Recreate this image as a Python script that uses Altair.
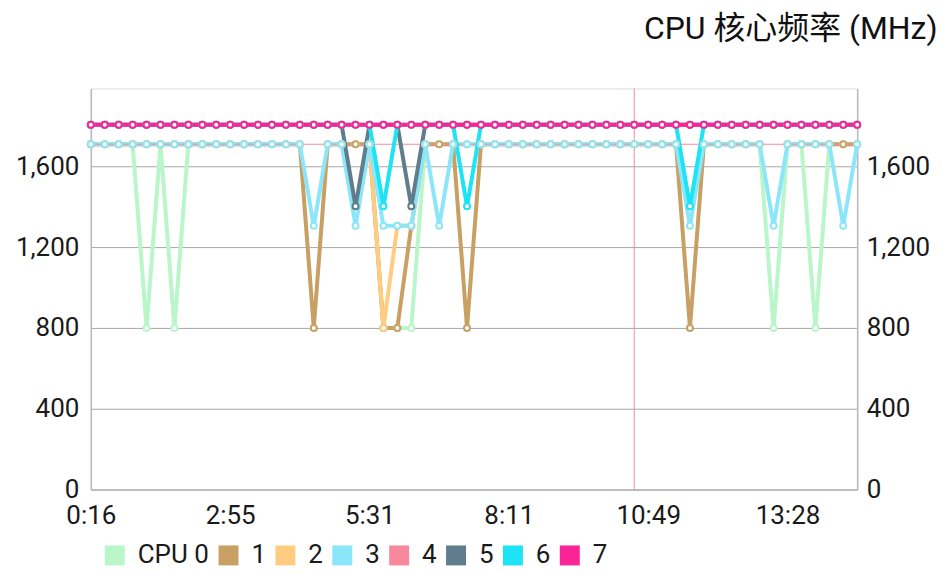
import pandas as pd
import altair as alt

# ---------------- data ----------------
series_names = ["CPU 0", "1", "2", "3", "4", "5", "6", "7"]
series_colors = ["#b9f6ca", "#c9a063", "#ffcc80", "#8ce6fa",
                 "#f8889c", "#607d8b", "#1de4f5", "#fa2397"]

time_labels = ["0:16", "2:55", "5:31", "8:11", "10:49", "13:28"]
time_label_index = [0, 10, 20, 30, 40, 50]
marker_index = 39

cpu0 = [1708.8, 1708.8, 1708.8, 1708.8, 800, 1708.8, 800, 1708.8,
        1708.8, 1708.8, 1708.8, 1708.8, 1708.8, 1708.8, 1708.8, 1708.8,
        None, 1708.8, 1708.8, 1708.8, 1708.8, 800, 800, 800,
        1708.8, 1708.8, 1708.8, 1708.8, 1708.8, 1708.8, 1708.8, 1708.8,
        1708.8, 1708.8, 1708.8, 1708.8, 1708.8, 1708.8, 1708.8, 1708.8,
        1708.8, 1708.8, 1708.8, None, 1708.8, 1708.8, 1708.8, 1708.8,
        1708.8, 800, 1708.8, 1708.8, 800, 1708.8, 1708.8, 1708.8]
cpu1 = [1708.8, 1708.8, 1708.8, 1708.8, 1708.8, 1708.8, 1708.8, 1708.8,
        1708.8, 1708.8, 1708.8, 1708.8, 1708.8, 1708.8, 1708.8, 1708.8,
        800, 1708.8, 1708.8, 1708.8, 1708.8, 800, 800, 1305.6,
        1708.8, 1708.8, 1708.8, 800, 1708.8, 1708.8, 1708.8, 1708.8,
        1708.8, 1708.8, 1708.8, 1708.8, 1708.8, 1708.8, 1708.8, 1708.8,
        1708.8, 1708.8, 1708.8, 800, 1708.8, 1708.8, 1708.8, 1708.8,
        1708.8, None, 1708.8, 1708.8, 1708.8, 1708.8, 1708.8, 1708.8]
cpu2 = [1708.8, 1708.8, 1708.8, 1708.8, 1708.8, 1708.8, 1708.8, 1708.8,
        1708.8, 1708.8, 1708.8, 1708.8, 1708.8, 1708.8, 1708.8, 1708.8,
        None, 1708.8, 1708.8, None, 1708.8, 800, 1305.6, 1305.6,
        1708.8, None, 1708.8, 1708.8, 1708.8, 1708.8, 1708.8, 1708.8,
        1708.8, 1708.8, 1708.8, 1708.8, 1708.8, 1708.8, 1708.8, 1708.8,
        1708.8, 1708.8, 1708.8, None, 1708.8, 1708.8, 1708.8, 1708.8,
        1708.8, None, 1708.8, 1708.8, 1708.8, 1708.8, None, 1708.8]
cpu3 = [1708.8, 1708.8, 1708.8, 1708.8, 1708.8, 1708.8, 1708.8, 1708.8,
        1708.8, 1708.8, 1708.8, 1708.8, 1708.8, 1708.8, 1708.8, 1708.8,
        1305.6, 1708.8, 1708.8, 1305.6, 1708.8, 1305.6, 1305.6, 1305.6,
        1708.8, 1305.6, 1708.8, 1708.8, 1708.8, 1708.8, 1708.8, 1708.8,
        1708.8, 1708.8, 1708.8, 1708.8, 1708.8, 1708.8, 1708.8, 1708.8,
        1708.8, 1708.8, 1708.8, 1305.6, 1708.8, 1708.8, 1708.8, 1708.8,
        1708.8, 1305.6, 1708.8, 1708.8, 1708.8, 1708.8, 1305.6, 1708.8]
cpu4 = [1708.8, 1708.8, 1708.8, 1708.8, 1708.8, 1708.8, 1708.8, 1708.8,
        1708.8, 1708.8, 1708.8, 1708.8, 1708.8, 1708.8, 1708.8, 1708.8,
        1708.8, 1708.8, 1708.8, 1708.8, 1708.8, 1708.8, 1708.8, 1708.8,
        1708.8, 1708.8, 1708.8, 1708.8, 1708.8, 1708.8, 1708.8, 1708.8,
        1708.8, 1708.8, 1708.8, 1708.8, 1708.8, 1708.8, 1708.8, 1708.8,
        1708.8, 1708.8, 1708.8, 1708.8, 1708.8, 1708.8, 1708.8, 1708.8,
        1708.8, 1708.8, 1708.8, 1708.8, 1708.8, 1708.8, 1708.8, 1708.8]
cpu5 = [1804.8, 1804.8, 1804.8, 1804.8, 1804.8, 1804.8, 1804.8, 1804.8,
        1804.8, 1804.8, 1804.8, 1804.8, 1804.8, 1804.8, 1804.8, 1804.8,
        1804.8, 1804.8, 1804.8, 1401.6, 1804.8, 1804.8, 1804.8, 1401.6,
        1804.8, 1804.8, 1804.8, 1804.8, 1804.8, 1804.8, 1804.8, 1804.8,
        1804.8, 1804.8, 1804.8, 1804.8, 1804.8, 1804.8, 1804.8, 1804.8,
        1804.8, 1804.8, 1804.8, 1804.8, 1804.8, 1804.8, 1804.8, 1804.8,
        1804.8, 1804.8, 1804.8, 1804.8, 1804.8, 1804.8, 1804.8, 1804.8]
cpu6 = [1804.8, 1804.8, 1804.8, 1804.8, 1804.8, 1804.8, 1804.8, 1804.8,
        1804.8, 1804.8, 1804.8, 1804.8, 1804.8, 1804.8, 1804.8, 1804.8,
        1804.8, 1804.8, 1804.8, 1804.8, 1804.8, 1401.6, 1804.8, 1804.8,
        1804.8, 1804.8, 1804.8, 1401.6, 1804.8, 1804.8, 1804.8, 1804.8,
        1804.8, 1804.8, 1804.8, 1804.8, 1804.8, 1804.8, 1804.8, 1804.8,
        1804.8, 1804.8, 1804.8, 1401.6, 1804.8, 1804.8, 1804.8, 1804.8,
        1804.8, 1804.8, 1804.8, 1804.8, 1804.8, 1804.8, 1804.8, 1804.8]
cpu7 = [1804.8, 1804.8, 1804.8, 1804.8, 1804.8, 1804.8, 1804.8, 1804.8,
        1804.8, 1804.8, 1804.8, 1804.8, 1804.8, 1804.8, 1804.8, 1804.8,
        1804.8, 1804.8, 1804.8, 1804.8, 1804.8, 1804.8, 1804.8, 1804.8,
        1804.8, 1804.8, 1804.8, 1804.8, 1804.8, 1804.8, 1804.8, 1804.8,
        1804.8, 1804.8, 1804.8, 1804.8, 1804.8, 1804.8, 1804.8, 1804.8,
        1804.8, 1804.8, 1804.8, 1804.8, 1804.8, 1804.8, 1804.8, 1804.8,
        1804.8, 1804.8, 1804.8, 1804.8, 1804.8, 1804.8, 1804.8, 1804.8]

all_series = [cpu0, cpu1, cpu2, cpu3, cpu4, cpu5, cpu6, cpu7]
series_with_points = ["CPU 0", "1", "2", "3", "5", "6", "7"]

# ---------------- tables ----------------
def series_frame(name, values):
    rows, seg = [], 0
    for i, v in enumerate(values):
        if v is None:
            seg += 1
            continue
        rows.append({"idx": i, "value": v, "cpu": name, "seg": seg})
    return pd.DataFrame(rows)

frames = [series_frame(n, v) for n, v in zip(series_names, all_series)]
points_df = pd.concat([f for f, n in zip(frames, series_names) if n in series_with_points],
                      ignore_index=True)
legend_df = pd.concat(frames, ignore_index=True)

FONT = "Roboto, 'Noto Sans CJK SC', sans-serif"
label_expr = " : ".join(
    f"datum.value == {i} ? '{t}'" for i, t in zip(time_label_index, time_labels)
) + " : ''"

y_scale = alt.Scale(domain=[0, 1985], nice=False, zero=True)
x_scale = alt.Scale(domain=[0, 55], nice=False)
color_scale = alt.Scale(domain=series_names, range=series_colors)

x_axis = alt.Axis(values=time_label_index, labelExpr=label_expr,
                  grid=False, ticks=False, domainColor="#b8b8b8", domainWidth=1.5,
                  labelFont=FONT, labelFontSize=26, labelColor="#1a1a1a",
                  labelPadding=13, labelFlush=False, labelOverlap=False, title=None)
y_left = alt.Axis(orient="left", values=[0, 400, 800, 1200, 1600], format=",d",
                  grid=True, gridColor="#a8a8a8", gridWidth=1, ticks=False,
                  domainColor="#b8b8b8", domainWidth=1.5,
                  labelFont=FONT, labelFontSize=26, labelColor="#1a1a1a",
                  labelPadding=12, title=None)
y_right = alt.Axis(orient="right", values=[0, 400, 800, 1200, 1600], format=",d",
                   grid=False, ticks=False,
                   domainColor="#b8b8b8", domainWidth=1.5,
                   labelFont=FONT, labelFontSize=26, labelColor="#1a1a1a",
                   labelPadding=9, title=None)

X = alt.X("idx:Q", scale=x_scale, axis=x_axis)

layers = []
for k, (name, f) in enumerate(zip(series_names, frames)):
    width = 1.2 if name == "4" else 4
    layers.append(
        alt.Chart(f).mark_line(strokeWidth=width, color=series_colors[k]).encode(
            x=X,
            y=alt.Y("value:Q", scale=y_scale, axis=y_left if k == 0 else None),
            detail="seg:N",
        )
    )

rule = alt.Chart(pd.DataFrame({"idx": [marker_index]})).mark_rule(
    color=series_colors[4], strokeWidth=1
).encode(x=X)

legend_layer = alt.Chart(legend_df).mark_square(size=0, opacity=1).encode(
    x=X,
    y=alt.Y("value:Q", scale=y_scale, axis=y_right),
    color=alt.Color("cpu:N", scale=color_scale, sort=series_names,
                    legend=alt.Legend(orient="none", legendX=11, legendY=455,
                                      direction="horizontal", symbolType="square",
                                      symbolSize=400, symbolStrokeWidth=0,
                                      labelFont=FONT, labelFontSize=26,
                                      labelColor="#1a1a1a", labelOffset=10,
                                      columnPadding=6, padding=0, title=None)),
)

points = alt.Chart(points_df).mark_point(
    shape="circle", filled=False, fill="white", fillOpacity=1,
    size=36, strokeWidth=2, opacity=1
).encode(
    x=X,
    y=alt.Y("value:Q", scale=y_scale, axis=None),
    stroke=alt.Stroke("cpu:N", scale=alt.Scale(domain=series_names, range=series_colors),
                      legend=None),
)

chart = alt.layer(*layers, rule, legend_layer, points).resolve_scale(
    y="shared"
).resolve_axis(y="independent").properties(
    width=768, height=402,
    autosize=alt.AutoSizeParams(type="none"),
    padding={"left": 83, "top": 80, "right": 85, "bottom": 80},
    title=alt.TitleParams(text="CPU 核心频率 (MHz)", anchor="end", frame="bounds",
                          font=FONT, fontSize=32, fontWeight="normal",
                          color="#111111", offset=42, dx=8),
).configure_view(stroke=None).configure(background="white")

chart.save("out.html", embed_options={"renderer": "svg", "actions": False})
